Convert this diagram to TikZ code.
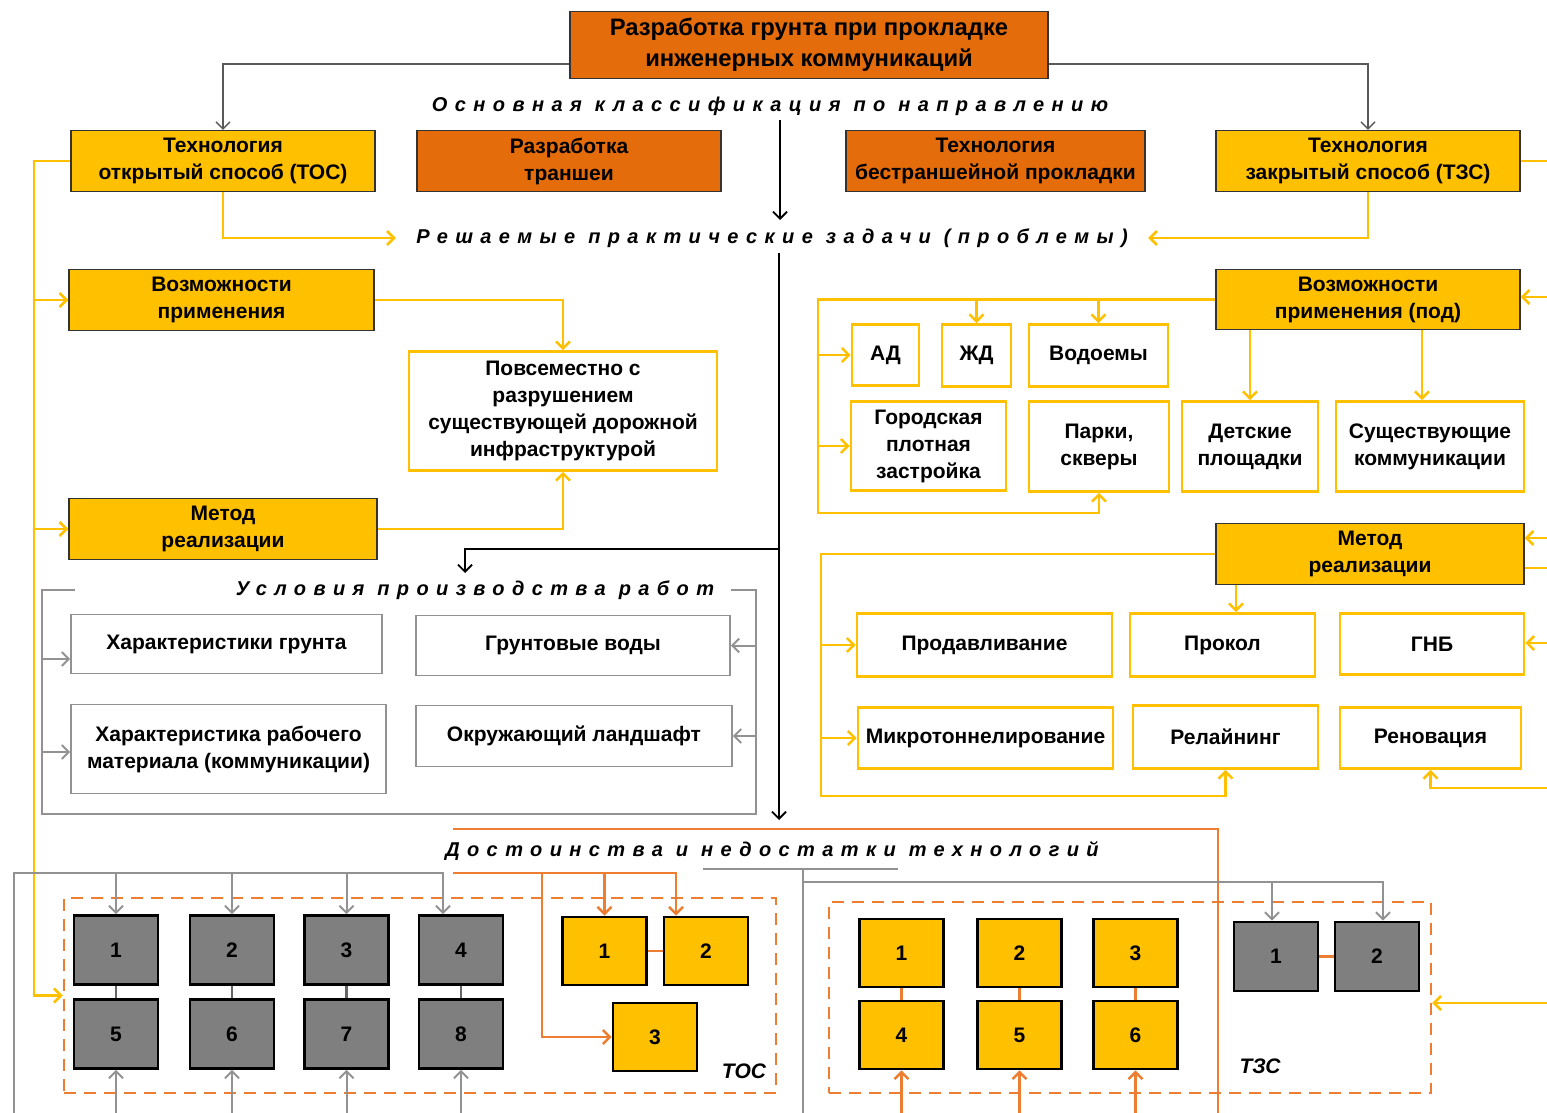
\documentclass[tikz,border=0pt]{standalone}
\usepackage{fontspec}
\setmainfont{Liberation Sans}
\newfontfamily\headfont{Liberation Sans}[LetterSpace=37]
\usepackage{xcolor}
\usetikzlibrary{calc,positioning,arrows.meta}
\definecolor{orgfill}{HTML}{E46C0A}
\definecolor{ylwfill}{HTML}{FFC000}
\definecolor{orgline}{HTML}{ED7D31}
\definecolor{gryfill}{HTML}{7F7F7F}
\definecolor{gryline}{HTML}{929292}

\begin{document}
\begin{tikzpicture}[x=0.5pt,y=-0.5pt,>={Straight Barb[length=3.5pt,width=7pt]}]
  \tikzset{
    box/.style 2 args={minimum width=#1*0.5pt, minimum height=#2*0.5pt,
      inner sep=0pt, align=center, font=\fontsize{10.5}{13.5}\selectfont\bfseries},
    orgbox/.style={fill=orgfill, draw=black!80, line width=0.6pt},
    ylwbox/.style={fill=ylwfill, draw=black!80, line width=0.6pt},
    optbox/.style={fill=white, draw=ylwfill, line width=1.3pt},
    cndbox/.style={fill=white, draw=gryline, line width=0.8pt},
    sqgry/.style={box={84}{69}, fill=gryfill, draw=black, line width=1.4pt},
    sqylw/.style={box={84}{68}, fill=ylwfill, draw=black, line width=1.4pt},
    dframe/.style={draw=orgline, dash pattern=on 6pt off 4pt, line width=1.2pt},
    headtxt/.style={font=\headfont\fontsize{10}{12}\selectfont\bfseries\itshape, inner xsep=10pt},
    tag/.style={font=\fontsize{10.5}{12}\selectfont\bfseries\itshape},
    yline/.style={draw=ylwfill, line width=1.3pt},
    oline/.style={draw=orgline, line width=1.2pt},
    gline/.style={draw=gryline, line width=1pt},
    kline/.style={draw=black, line width=0.9pt},
  }
  \useasboundingbox (0,0) rectangle (1547,1113);

  % top level
  \node[box={478}{67}, orgbox, font=\fontsize{11.9}{15.5}\selectfont\bfseries] (top) at (809,45)
    {Разработка грунта при прокладке\\инженерных коммуникаций};
  \node[headtxt] (h1) at (770,106) {Основная классификация по направлению};
  \node[box={304}{61}, ylwbox] (tos) at (223,161) {Технология\\открытый способ (ТОС)};
  \node[box={304}{61}, orgbox] (trench) at (569,161) {Разработка\\траншеи};
  \node[box={299}{61}, orgbox] (notrench) at (995.5,161) {Технология\\бестраншейной прокладки};
  \node[box={304}{61}, ylwbox] (tzs) at (1368,161) {Технология\\закрытый способ (ТЗС)};
  \node[headtxt] (h2) at (772,238) {Решаемые практические задачи (проблемы)};

  % open method
  \node[box={305}{61}, ylwbox] (useL) at (221.5,300) {Возможности\\применения};
  \node[box={308}{61}, ylwbox] (methL) at (223,529) {Метод\\реализации};
  \node[box={308}{119}, optbox] (everyw) at (563,411)
    {Повсеместно с\\разрушением\\существующей дорожной\\инфраструктурой};

  % closed method
  \node[box={304}{60}, ylwbox] (useR) at (1368,299.5) {Возможности\\применения (под)};
  \node[box={67}{61}, optbox] (ad) at (885.5,355) {АД};
  \node[box={69}{62}, optbox] (zd) at (976.5,355.5) {ЖД};
  \node[box={139}{62}, optbox] (water) at (1098.5,355.5) {Водоемы};
  \node[box={155}{89}, optbox] (city) at (928.5,446) {Городская\\плотная\\застройка};
  \node[box={140}{90}, optbox] (park) at (1099,446.5) {Парки,\\скверы};
  \node[box={136}{90}, optbox] (play) at (1250,446.5) {Детские\\площадки};
  \node[box={188}{90}, optbox] (util) at (1430,446.5) {Существующие\\коммуникации};
  \node[box={308}{61}, ylwbox] (methR) at (1370,554) {Метод\\реализации};
  \node[box={255}{63}, optbox] (push) at (984.5,645) {Продавливание};
  \node[box={185}{63}, optbox] (punch) at (1222.5,645) {Прокол};
  \node[box={184}{61}, optbox] (hdd) at (1432,644) {ГНБ};
  \node[box={255}{61}, optbox] (micro) at (985.5,738) {Микротоннелирование};
  \node[box={185}{63}, optbox] (reline) at (1225.5,737) {Релайнинг};
  \node[box={181}{61}, optbox] (renov) at (1430.5,738) {Реновация};

  % conditions
  \node[headtxt] (h3) at (475,590) {Условия производства работ};
  \node[box={311}{59}, cndbox] (soil) at (226.5,644) {Характеристики грунта};
  \node[box={314}{60}, cndbox] (gw) at (573,645.5) {Грунтовые воды};
  \node[box={315}{89}, cndbox] (mat) at (228.5,749) {Характеристика рабочего\\материала (коммуникации)};
  \node[box={316}{61}, cndbox] (land) at (574,736) {Окружающий ландшафт};

  % pros and cons
  \node[headtxt] (h4) at (772,851) {Достоинства и недостатки технологий};
  \node[box={712}{195}, dframe] (tocf) at (420,995.5) {};
  \node[box={602}{191}, dframe] (tzsf) at (1130,997.5) {};
  \node[tag] (toclbl) at (744,1071) {ТОС};
  \node[tag] (tzslbl) at (1260,1066) {ТЗС};
  \foreach \i/\x in {1/116,2/232,3/346.5,4/461}
    \node[sqgry] (g\i) at (\x,950) {\i};
  \foreach \i/\x in {5/116,6/232,7/346.5,8/461}
    \node[sqgry] (g\i) at (\x,1034) {\i};
  \node[sqylw] (t1) at (604.5,951) {1};
  \node[sqylw] (t2) at (706,951) {2};
  \node[sqylw] (t3) at (655,1037) {3};
  \foreach \i/\x in {1/901.5,2/1019.5,3/1135.5}
    \node[sqylw] (y\i) at (\x,953) {\i};
  \foreach \i/\x in {4/901.5,5/1019.5,6/1135.5}
    \node[sqylw] (y\i) at (\x,1035) {\i};
  \node[sqgry] (z1) at (1276,956.5) {1};
  \node[sqgry] (z2) at (1377,956.5) {2};

  % free ends
  \coordinate (k1) at (780,120);
  \coordinate (k2) at (780,220);
  \coordinate (k3) at (779,253);
  \coordinate (k4) at (779,820);
  \coordinate (k5) at (779,549);
  \coordinate (k6) at (465,573);
  \coordinate (lbus) at (34,0);
  \coordinate (rbus) at (818,513);
  \coordinate (mbus) at (821,796);
  \coordinate (cl) at (42,0);
  \coordinate (cr) at (756,0);
  \coordinate (e1) at (1547,0);
  \coordinate (e2) at (1547,297);
  \coordinate (e3) at (1547,538);
  \coordinate (e4) at (1547,568);
  \coordinate (e5) at (1547,643);
  \coordinate (e6) at (1547,788);
  \coordinate (e7) at (1547,1003);
  \coordinate (gl) at (14,1113);
  \coordinate (gt) at (14,873);
  \coordinate (ot) at (453,873);
  \coordinate (ob) at (542,873);
  \coordinate (gr) at (803,882);

  % connectors
  \draw[draw=black!65, line width=0.7pt, ->] ($(top.west)+(0,19)$) -| (tos.north);
  \draw[draw=black!65, line width=0.7pt, ->] ($(top.east)+(0,19)$) -| (tzs.north);
  \draw[kline,->] (k1) -- (k2);
  \draw[kline,->] (k3) -- (k4);
  \draw[kline,->] (k5) -| (k6);
  \draw[yline,->] (tos.south) |- (h2.west);
  \draw[yline,->] (tzs.south) |- (h2.east);

  \draw[yline,->] (tos.west) -| (lbus |- tocf.west) -- (tocf.west);
  \draw[yline,->] (lbus |- useL.west) -- (useL.west);
  \draw[yline,->] (lbus |- methL.west) -- (methL.west);
  \draw[yline,->] (useL.east) -| (everyw.north);
  \draw[yline,->] (methL.east) -| (everyw.south);

  \draw[yline,->] (useR.west) -| (rbus) -| (park.south);
  \draw[yline,->] (zd.north |- useR.west) -- (zd.north);
  \draw[yline,->] (water.north |- useR.west) -- (water.north);
  \draw[yline,->] (rbus |- ad.west) -- (ad.west);
  \draw[yline,->] (rbus |- city.west) -- (city.west);
  \draw[yline,->] (play.north |- useR.south) -- (play.north);
  \draw[yline,->] ($(util.north |- useR.south)+(-8,0)$) -- ($(util.north)+(-8,0)$);
  \draw[yline] (tzs.east) -- (e1 |- tzs.east);
  \draw[yline,->] (e2) -- (e2 -| useR.east);
  \draw[yline,->] (e3) -- (e3 -| methR.east);
  \draw[yline] (e4 -| methR.east) -- (e4);
  \draw[yline,->] (e5) -- (e5 -| hdd.east);
  \draw[yline,->] (e6) -| (renov.south);
  \draw[yline,->] (e7) -- (e7 -| tzsf.east);

  \draw[yline,->] (methR.west) -| (mbus) -| (reline.south);
  \draw[yline,->] (mbus |- push.west) -- (push.west);
  \draw[yline,->] (mbus |- micro.west) -- (micro.west);
  \draw[yline,->] ($(punch.north |- methR.south)+(13.5,0)$) -- ($(punch.north)+(13.5,0)$);

  \draw[gline] (75,590) -- (cl |- h3) -- (42,814) -- (756,814) -- (cr |- h3) -- (731,590);
  \draw[gline,->] ($(cl |- soil.west)+(0,15)$) -- ($(soil.west)+(0,15)$);
  \draw[gline,->] ($(cl |- mat.west)+(0,3)$) -- ($(mat.west)+(0,3)$);
  \draw[gline,->] (cr |- gw.east) -- (gw.east);
  \draw[gline,->] (cr |- land.east) -- (land.east);

  \draw[oline] (453,829) -- (1218,829) -- (1218,1113);
  \draw[gline] (703,869) -- (898,869);
  \draw[gline] (803,869) -- (803,1113);
  \draw[gline,->] (gr) -| ($(z2.north)+(6,0)$);
  \draw[gline,->] ($(z1.north |- gr)+(-4,0)$) -- ($(z1.north)+(-4,0)$);

  \draw[gline,->] (gl) -- (gt) -| ($(g4.north)+(-18,0)$);
  \foreach \i in {1,2,3}
    \draw[gline,->] (g\i.north |- gt) -- (g\i.north);
  \foreach \i in {5,...,8}
    \draw[gline,->] (g\i.south |- gl) -- (g\i.south);
  \foreach \i/\j in {1/5,2/6,3/7,4/8}
    \draw[draw=black!60, line width=1.2pt] (g\i) -- (g\j);

  \draw[oline,->] (ot) -| ($(t2.north)+(-30,0)$);
  \draw[oline,->] (t1.north |- ot) -- (t1.north);
  \draw[oline,->] (ob) |- (t3.west);
  \draw[oline] (t1) -- (t2);
  \foreach \i/\j in {1/4,2/5,3/6}
    \draw[oline] (y\i) -- (y\j);
  \foreach \i in {4,5,6}
    \draw[oline,->] (y\i.south |- gl) -- (y\i.south);
  \draw[oline] (z1) -- (z2);
\end{tikzpicture}
\end{document}
